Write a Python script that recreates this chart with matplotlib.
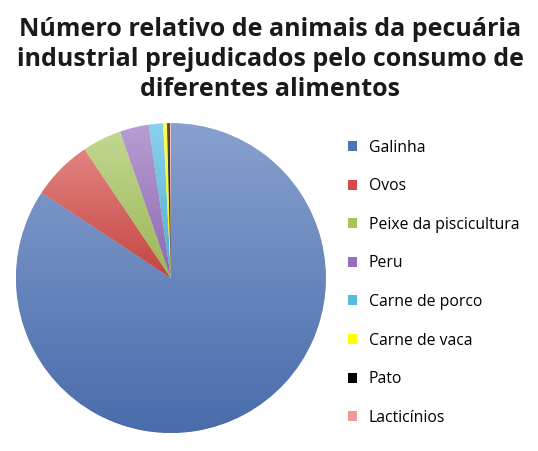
import numpy as np
import matplotlib
matplotlib.use("Agg")
import matplotlib.pyplot as plt
from matplotlib.patches import Patch
from matplotlib.colors import to_rgb

# percent of animals
categories = ["Galinha", "Ovos", "Peixe da piscicultura", "Peru",
              "Carne de porco", "Carne de vaca", "Pato", "Lacticínios"]
shares = [84.3, 6.3, 4.1, 3.0, 1.5, 0.4, 0.3, 0.1]
colors = ["#4F74B8", "#D44A46", "#A6C45C", "#9670BE",
          "#55BBE0", "#FFFF00", "#000000", "#F29A98"]
TITLE = ("Número relativo de animais da pecuária\n"
         "industrial prejudicados pelo consumo de\n"
         "diferentes alimentos")

plt.rcParams["font.family"] = ["Open Sans", "DejaVu Sans"]

fig = plt.figure(figsize=(5.38, 4.51), dpi=100)
fig.patch.set_facecolor("white")
ax = fig.add_axes([0.0297, 0.0399, 0.576, 0.687])

wedges, _ = ax.pie(shares, colors=colors, startangle=90, counterclock=False,
                   wedgeprops=dict(edgecolor="white", linewidth=0.4))
ax.set_aspect("equal")
ax.axis("off")

# soft top-to-bottom shading per slice, like the office-style chart
ramp = np.linspace(0, 1, 256)[:, None, None]
for w, c in zip(wedges, colors):
    base = np.array(to_rgb(c))
    light = base + (1 - base) * 0.32
    dark = base * 0.93
    img = light * (1 - ramp) + dark * ramp
    img = np.repeat(img, 2, axis=1)
    ext = w.get_path().get_extents(w.get_patch_transform())
    im = ax.imshow(img, extent=(ext.x0, ext.x1, ext.y0, ext.y1), origin="upper",
                   zorder=w.get_zorder() + 0.5, aspect="auto", interpolation="bilinear")
    im.set_clip_path(w)
ax.set_xlim(-1, 1)
ax.set_ylim(-1, 1)

fig.text(0.502, 0.962, TITLE, ha="center", va="top", fontsize=18,
         fontweight="bold", color="#1a1a1a", linespacing=1.25)

handles = [Patch(facecolor=c, edgecolor="none") for c in colors]
fig.legend(handles, categories, loc="upper left", bbox_to_anchor=(0.62, 0.722),
           frameon=False, fontsize=11.3, labelspacing=1.44, handlelength=0.6,
           handleheight=0.6, handletextpad=0.75)

fig.savefig("out.png", dpi=100, facecolor="white")
